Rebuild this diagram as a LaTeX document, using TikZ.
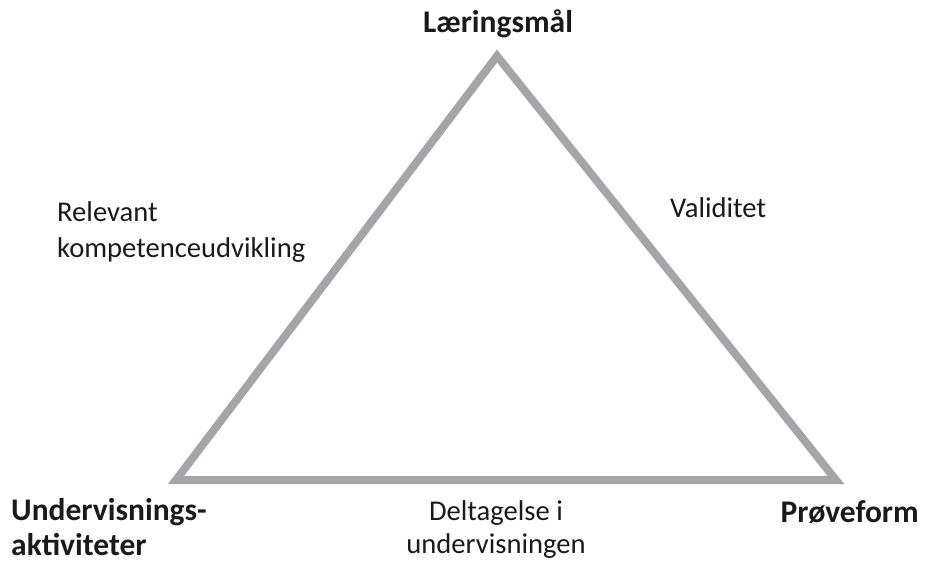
\documentclass[tikz,border=0pt]{standalone}
\usepackage{fontspec}
\setmainfont{Carlito}
\definecolor{tri}{HTML}{A3A6A8}
\definecolor{txt}{HTML}{1A1A1A}
\begin{document}
\begin{tikzpicture}[x=1pt,y=-1pt,
  boldlabel/.style={inner sep=0pt, text=txt, font=\fontsize{31.5}{35}\selectfont\bfseries},
  plainlabel/.style={inner sep=0pt, text=txt, font=\fontsize{28.6}{36}\selectfont},
  edge/.style={line width=8pt, draw=tri, line join=miter}]
\useasboundingbox (0,0) rectangle (925,562);
\coordinate (top) at (497,56);
\coordinate (bl) at (176,480);
\coordinate (br) at (836,480);
\draw[edge] (top) -- (bl) -- (br) -- cycle;
\node[boldlabel, anchor=base] (goal) at (498,32) {Læringsmål};
\node[boldlabel, anchor=base west, align=left] (act) at (11,555) {Undervisnings-\\aktiviteter};
\node[boldlabel, anchor=base east] (exam) at (919,522) {Prøveform};
\node[plainlabel, anchor=base west, align=left] (rel) at (57,257) {Relevant\\kompetenceudvikling};
\node[plainlabel, anchor=base west] (val) at (670,217) {Validitet};
\node[plainlabel, anchor=base, align=center, font=\fontsize{28.6}{33}\selectfont] (del) at (496,553) {Deltagelse i\\undervisningen};
\end{tikzpicture}
\end{document}
